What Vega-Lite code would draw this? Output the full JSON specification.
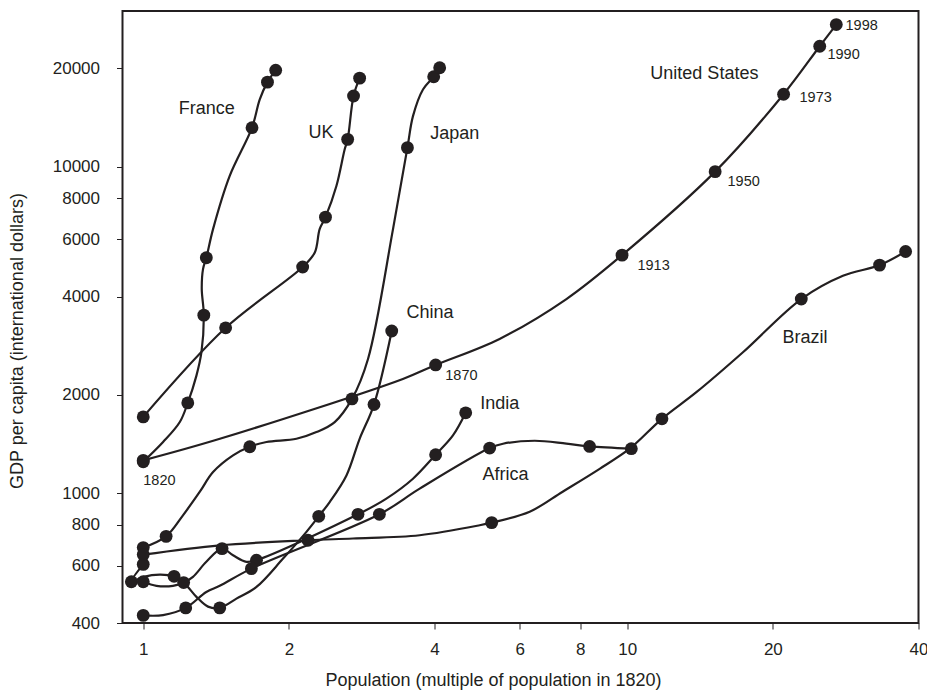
{
  "$schema": "https://vega.github.io/schema/vega-lite/v6.json",
  "width": 796,
  "height": 612,
  "autosize": {"type": "none"},
  "padding": {"left": 122.5, "top": 11, "right": 8.5, "bottom": 67},
  "background": "white",
  "config": {
    "view": {"stroke": "#231f20", "strokeWidth": 2},
    "font": "Liberation Sans",
    "axis": {
      "grid": false,
      "domain": false,
      "tickSize": 6,
      "tickWidth": 1,
      "tickColor": "#231f20",
      "labelColor": "#231f20",
      "labelFontSize": 17,
      "labelFlush": false,
      "labelOverlap": false,
      "titleColor": "#231f20",
      "titleFontSize": 18,
      "titleFontWeight": "normal"
    }
  },
  "datasets": {
    "paths": [
      {"series": "US", "i": 1, "pop": 1, "gdp": 1260, "year": 1820},
      {"series": "US", "i": 2, "pop": 1.44, "gdp": 1467, "year": null},
      {"series": "US", "i": 3, "pop": 3.44, "gdp": 2238, "year": null},
      {"series": "US", "i": 4, "pop": 4.02, "gdp": 2470, "year": 1870},
      {"series": "US", "i": 5, "pop": 5.45, "gdp": 2968, "year": null},
      {"series": "US", "i": 6, "pop": 7.49, "gdp": 3932, "year": null},
      {"series": "US", "i": 7, "pop": 9.76, "gdp": 5360, "year": 1913},
      {"series": "US", "i": 8, "pop": 15.2, "gdp": 9660, "year": 1950},
      {"series": "US", "i": 9, "pop": 21.05, "gdp": 16680, "year": 1973},
      {"series": "US", "i": 10, "pop": 25.0, "gdp": 23400, "year": 1990},
      {"series": "US", "i": 11, "pop": 27.05, "gdp": 27260, "year": 1998},

      {"series": "France", "i": 1, "pop": 1, "gdp": 1248, "year": 1820},
      {"series": "France", "i": 2, "pop": 1.099, "gdp": 1434, "year": null},
      {"series": "France", "i": 3, "pop": 1.19, "gdp": 1651, "year": null},
      {"series": "France", "i": 4, "pop": 1.236, "gdp": 1890, "year": 1870},
      {"series": "France", "i": 5, "pop": 1.288, "gdp": 2291, "year": null},
      {"series": "France", "i": 6, "pop": 1.319, "gdp": 2702, "year": null},
      {"series": "France", "i": 7, "pop": 1.334, "gdp": 3510, "year": 1913},
      {"series": "France", "i": 8, "pop": 1.321, "gdp": 4220, "year": null},
      {"series": "France", "i": 9, "pop": 1.329, "gdp": 4857, "year": null},
      {"series": "France", "i": 10, "pop": 1.35, "gdp": 5260, "year": 1950},
      {"series": "France", "i": 11, "pop": 1.394, "gdp": 6439, "year": null},
      {"series": "France", "i": 12, "pop": 1.509, "gdp": 9370, "year": null},
      {"series": "France", "i": 13, "pop": 1.678, "gdp": 13170, "year": 1973},
      {"series": "France", "i": 14, "pop": 1.741, "gdp": 16077, "year": null},
      {"series": "France", "i": 15, "pop": 1.806, "gdp": 18160, "year": 1990},
      {"series": "France", "i": 16, "pop": 1.878, "gdp": 19760, "year": 1998},

      {"series": "UK", "i": 1, "pop": 1, "gdp": 1712, "year": 1820},
      {"series": "UK", "i": 2, "pop": 1.48, "gdp": 3210, "year": 1870},
      {"series": "UK", "i": 3, "pop": 2.135, "gdp": 4930, "year": 1913},
      {"series": "UK", "i": 4, "pop": 2.262, "gdp": 5462, "year": null},
      {"series": "UK", "i": 5, "pop": 2.315, "gdp": 6439, "year": null},
      {"series": "UK", "i": 6, "pop": 2.38, "gdp": 7006, "year": 1950},
      {"series": "UK", "i": 7, "pop": 2.507, "gdp": 8730, "year": null},
      {"series": "UK", "i": 8, "pop": 2.608, "gdp": 11310, "year": null},
      {"series": "UK", "i": 9, "pop": 2.645, "gdp": 12130, "year": 1973},
      {"series": "UK", "i": 10, "pop": 2.72, "gdp": 16470, "year": 1990},
      {"series": "UK", "i": 11, "pop": 2.8, "gdp": 18680, "year": 1998},

      {"series": "Japan", "i": 1, "pop": 1, "gdp": 681, "year": 1820},
      {"series": "Japan", "i": 2, "pop": 1.115, "gdp": 737, "year": 1870},
      {"series": "Japan", "i": 3, "pop": 1.208, "gdp": 855, "year": null},
      {"series": "Japan", "i": 4, "pop": 1.308, "gdp": 1008, "year": null},
      {"series": "Japan", "i": 5, "pop": 1.394, "gdp": 1160, "year": null},
      {"series": "Japan", "i": 6, "pop": 1.533, "gdp": 1305, "year": null},
      {"series": "Japan", "i": 7, "pop": 1.66, "gdp": 1387, "year": 1913},
      {"series": "Japan", "i": 8, "pop": 1.797, "gdp": 1434, "year": null},
      {"series": "Japan", "i": 9, "pop": 2.073, "gdp": 1467, "year": null},
      {"series": "Japan", "i": 10, "pop": 2.28, "gdp": 1538, "year": null},
      {"series": "Japan", "i": 11, "pop": 2.487, "gdp": 1651, "year": null},
      {"series": "Japan", "i": 12, "pop": 2.7, "gdp": 1944, "year": 1950},
      {"series": "Japan", "i": 13, "pop": 2.914, "gdp": 2576, "year": null},
      {"series": "Japan", "i": 14, "pop": 3.282, "gdp": 6439, "year": null},
      {"series": "Japan", "i": 15, "pop": 3.515, "gdp": 11440, "year": 1973},
      {"series": "Japan", "i": 16, "pop": 3.609, "gdp": 14290, "year": null},
      {"series": "Japan", "i": 17, "pop": 3.785, "gdp": 17250, "year": null},
      {"series": "Japan", "i": 18, "pop": 3.983, "gdp": 18870, "year": 1990},
      {"series": "Japan", "i": 19, "pop": 4.098, "gdp": 20100, "year": 1998},

      {"series": "China", "i": 1, "pop": 1, "gdp": 605, "year": 1820},
      {"series": "China", "i": 2, "pop": 0.945, "gdp": 535, "year": 1870},
      {"series": "China", "i": 3, "pop": 1.002, "gdp": 554, "year": null},
      {"series": "China", "i": 4, "pop": 1.082, "gdp": 563, "year": null},
      {"series": "China", "i": 5, "pop": 1.158, "gdp": 556, "year": 1913},
      {"series": "China", "i": 6, "pop": 1.218, "gdp": 528, "year": null},
      {"series": "China", "i": 7, "pop": 1.288, "gdp": 481, "year": null},
      {"series": "China", "i": 8, "pop": 1.361, "gdp": 449, "year": null},
      {"series": "China", "i": 9, "pop": 1.439, "gdp": 445, "year": 1950},
      {"series": "China", "i": 10, "pop": 1.558, "gdp": 475, "year": null},
      {"series": "China", "i": 11, "pop": 1.714, "gdp": 516, "year": null},
      {"series": "China", "i": 12, "pop": 1.945, "gdp": 630, "year": null},
      {"series": "China", "i": 13, "pop": 2.174, "gdp": 761, "year": null},
      {"series": "China", "i": 14, "pop": 2.305, "gdp": 849, "year": 1973},
      {"series": "China", "i": 15, "pop": 2.428, "gdp": 939, "year": null},
      {"series": "China", "i": 16, "pop": 2.63, "gdp": 1133, "year": null},
      {"series": "China", "i": 17, "pop": 2.8, "gdp": 1467, "year": null},
      {"series": "China", "i": 18, "pop": 2.998, "gdp": 1868, "year": 1990},
      {"series": "China", "i": 19, "pop": 3.262, "gdp": 3138, "year": 1998},

      {"series": "India", "i": 1, "pop": 1, "gdp": 535, "year": 1820},
      {"series": "India", "i": 2, "pop": 1.065, "gdp": 520, "year": null},
      {"series": "India", "i": 3, "pop": 1.152, "gdp": 520, "year": null},
      {"series": "India", "i": 4, "pop": 1.212, "gdp": 532, "year": 1870},
      {"series": "India", "i": 5, "pop": 1.267, "gdp": 554, "year": null},
      {"series": "India", "i": 6, "pop": 1.35, "gdp": 616, "year": null},
      {"series": "India", "i": 7, "pop": 1.455, "gdp": 676, "year": 1913},
      {"series": "India", "i": 8, "pop": 1.533, "gdp": 645, "year": null},
      {"series": "India", "i": 9, "pop": 1.634, "gdp": 616, "year": null},
      {"series": "India", "i": 10, "pop": 1.714, "gdp": 623, "year": 1950},
      {"series": "India", "i": 11, "pop": 2.778, "gdp": 861, "year": 1973},
      {"series": "India", "i": 12, "pop": 3.18, "gdp": 962, "year": null},
      {"series": "India", "i": 13, "pop": 3.609, "gdp": 1107, "year": null},
      {"series": "India", "i": 14, "pop": 4.02, "gdp": 1311, "year": 1990},
      {"series": "India", "i": 15, "pop": 4.365, "gdp": 1502, "year": null},
      {"series": "India", "i": 16, "pop": 4.638, "gdp": 1762, "year": 1998},

      {"series": "Africa", "i": 1, "pop": 1, "gdp": 422, "year": 1820},
      {"series": "Africa", "i": 2, "pop": 1.099, "gdp": 423, "year": null},
      {"series": "Africa", "i": 3, "pop": 1.224, "gdp": 445, "year": 1870},
      {"series": "Africa", "i": 4, "pop": 1.35, "gdp": 498, "year": null},
      {"series": "Africa", "i": 5, "pop": 1.439, "gdp": 520, "year": null},
      {"series": "Africa", "i": 6, "pop": 1.673, "gdp": 587, "year": 1913},
      {"series": "Africa", "i": 7, "pop": 3.076, "gdp": 861, "year": 1950},
      {"series": "Africa", "i": 8, "pop": 3.726, "gdp": 1032, "year": null},
      {"series": "Africa", "i": 9, "pop": 5.199, "gdp": 1374, "year": 1973},
      {"series": "Africa", "i": 10, "pop": 5.539, "gdp": 1417, "year": null},
      {"series": "Africa", "i": 11, "pop": 6.441, "gdp": 1447, "year": null},
      {"series": "Africa", "i": 12, "pop": 7.488, "gdp": 1417, "year": null},
      {"series": "Africa", "i": 13, "pop": 8.364, "gdp": 1390, "year": 1990},
      {"series": "Africa", "i": 14, "pop": 10.2, "gdp": 1368, "year": 1998},

      {"series": "Brazil", "i": 1, "pop": 1, "gdp": 648, "year": 1820},
      {"series": "Brazil", "i": 2, "pop": 1.439, "gdp": 692, "year": null},
      {"series": "Brazil", "i": 3, "pop": 2.19, "gdp": 717, "year": 1870},
      {"series": "Brazil", "i": 4, "pop": 2.713, "gdp": 726, "year": null},
      {"series": "Brazil", "i": 5, "pop": 3.726, "gdp": 743, "year": null},
      {"series": "Brazil", "i": 6, "pop": 4.957, "gdp": 797, "year": null},
      {"series": "Brazil", "i": 7, "pop": 5.248, "gdp": 812, "year": 1913},
      {"series": "Brazil", "i": 8, "pop": 6.289, "gdp": 877, "year": null},
      {"series": "Brazil", "i": 9, "pop": 7.357, "gdp": 1010, "year": null},
      {"series": "Brazil", "i": 10, "pop": 8.773, "gdp": 1187, "year": null},
      {"series": "Brazil", "i": 11, "pop": 10.12, "gdp": 1368, "year": null},
      {"series": "Brazil", "i": 12, "pop": 11.8, "gdp": 1689, "year": 1950},
      {"series": "Brazil", "i": 13, "pop": 13.9, "gdp": 2038, "year": null},
      {"series": "Brazil", "i": 14, "pop": 17.35, "gdp": 2702, "year": null},
      {"series": "Brazil", "i": 15, "pop": 22.9, "gdp": 3932, "year": 1973},
      {"series": "Brazil", "i": 16, "pop": 27.92, "gdp": 4632, "year": null},
      {"series": "Brazil", "i": 17, "pop": 33.24, "gdp": 4995, "year": 1990},
      {"series": "Brazil", "i": 18, "pop": 37.62, "gdp": 5500, "year": 1998}
    ],
    "labels": [
      {"name": "France", "pop": 1.353, "gdp": 15056},
      {"name": "UK", "pop": 2.331, "gdp": 12670},
      {"name": "Japan", "pop": 4.401, "gdp": 12630},
      {"name": "United States", "pop": 14.44, "gdp": 19170},
      {"name": "China", "pop": 3.913, "gdp": 3570},
      {"name": "India", "pop": 5.453, "gdp": 1871},
      {"name": "Africa", "pop": 5.603, "gdp": 1136},
      {"name": "Brazil", "pop": 23.32, "gdp": 2982}
    ],
    "years": [
      {"label": "1820", "pop": 1.08, "gdp": 1091},
      {"label": "1870", "pop": 4.544, "gdp": 2286},
      {"label": "1913", "pop": 11.34, "gdp": 4970},
      {"label": "1950", "pop": 17.41, "gdp": 8993},
      {"label": "1973", "pop": 24.52, "gdp": 16190},
      {"label": "1990", "pop": 28.01, "gdp": 22070},
      {"label": "1998", "pop": 30.52, "gdp": 26980}
    ]
  },
  "encoding": {
    "x": {
      "field": "pop",
      "type": "quantitative",
      "scale": {"type": "log", "domain": [0.906, 40], "nice": false, "zero": false},
      "axis": {
        "title": "Population (multiple of population in 1820)",
        "values": [1, 2, 4, 6, 8, 10, 20, 40],
        "format": "d",
        "labelPadding": 12,
        "titleX": 370.5,
        "titleY": 57.5,
        "titleBaseline": "middle",
        "titleAlign": "center"
      }
    },
    "y": {
      "field": "gdp",
      "type": "quantitative",
      "scale": {"type": "log", "domain": [400, 30000], "nice": false, "zero": false},
      "axis": {
        "title": "GDP per capita (international dollars)",
        "values": [400, 600, 800, 1000, 2000, 4000, 6000, 8000, 10000, 20000],
        "format": "d",
        "labelPadding": 17,
        "titleX": -105,
        "titleY": 329.5,
        "titleBaseline": "middle",
        "titleAlign": "center",
        "titleAngle": -90
      }
    }
  },
  "layer": [
    {
      "data": {"name": "paths"},
      "mark": {"type": "line", "interpolate": "catmull-rom", "color": "#231f20", "strokeWidth": 2.2},
      "encoding": {
        "detail": {"field": "series"},
        "order": {"field": "i", "type": "quantitative"}
      }
    },
    {
      "data": {"name": "paths"},
      "transform": [{"filter": "isValid(datum.year)"}],
      "mark": {"type": "circle", "size": 165, "opacity": 1, "color": "#231f20"},
      "encoding": {}
    },
    {
      "data": {"name": "labels"},
      "mark": {"type": "text", "fontSize": 18, "color": "#231f20", "align": "center", "baseline": "middle"},
      "encoding": {"text": {"field": "name"}}
    },
    {
      "data": {"name": "years"},
      "mark": {"type": "text", "fontSize": 14.5, "color": "#231f20", "align": "center", "baseline": "middle"},
      "encoding": {"text": {"field": "label"}}
    }
  ]
}
